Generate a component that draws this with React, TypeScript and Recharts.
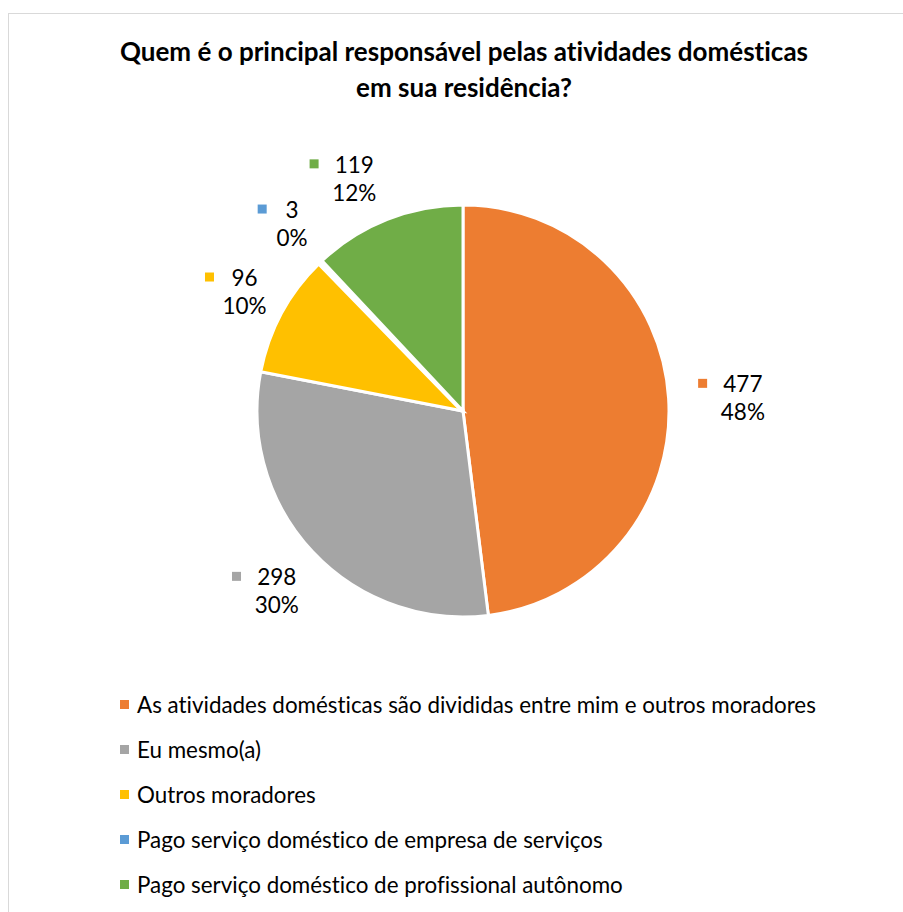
import { PieChart, Pie, Cell, Legend } from 'recharts';

const categories = [
  'As atividades domésticas são divididas entre mim e outros moradores',
  'Eu mesmo(a)',
  'Outros moradores',
  'Pago serviço doméstico de empresa de serviços',
  'Pago serviço doméstico de profissional autônomo',
];
const counts = [477, 298, 96, 3, 119];
const colors = ['#ED7D31', '#A5A5A5', '#FFC000', '#5B9BD5', '#70AD47'];
const titleLines = ['Quem é o principal responsável pelas atividades domésticas', 'em sua residência?'];

// small label shifts (Excel moves some labels to avoid overlap)
const labelNudge = [[6, 2], [-5, 0], [0, 4], [-5, 1], [-23, 10]];

const FONT = 'Lato, "Liberation Sans", sans-serif';
const RADIAN = Math.PI / 180;

const data = categories.map((name, i) => ({ name, value: counts[i] }));

const textW = (s: string) => s.replace('%', '').length * 10.5 + (s.includes('%') ? 20 : 0);

const renderLabel = (props: any) => {
  const { cx, cy, midAngle, outerRadius, index, value, percent } = props;
  const dx = Math.cos(-midAngle * RADIAN);
  const dy = Math.sin(-midAngle * RADIAN);
  const r = outerRadius + 28;
  const val = String(value);
  const pct = `${Math.round(percent * 100)}%`;
  const vw = textW(val);
  const pw = textW(pct);
  const halfW = (Math.max(pw, vw + 27)) / 2;
  const bx = cx + r * dx + dx * halfW + labelNudge[index][0];
  const by = cy + r * dy + dy * 28 + labelNudge[index][1];
  const tx = bx - (pw / 2 - vw / 2 - 27) / 2;
  return (
    <g>
      <rect x={tx - vw / 2 - 29} y={by - 18} width={9} height={9} fill={colors[index]} />
      <text x={tx} y={by - 13} textAnchor="middle" dominantBaseline="central" fontSize={22.5} fontFamily={FONT} fill="#000">
        {val}
      </text>
      <text x={tx} y={by + 15} textAnchor="middle" dominantBaseline="central" fontSize={22.5} fontFamily={FONT} fill="#000">
        {pct}
      </text>
    </g>
  );
};

const renderLegend = () => (
  <div style={{ fontFamily: FONT, fontSize: 22.4, color: '#000', fontVariantLigatures: 'none' }}>
    {categories.map((c, i) => (
      <div key={c} style={{ display: 'flex', alignItems: 'center', height: 45 }}>
        <span style={{ width: 9, height: 9, background: colors[i], marginRight: 8, display: 'inline-block' }} />
        <span>{c}</span>
      </div>
    ))}
  </div>
);

export default function App() {
  return (
    <div style={{ position: 'relative', width: 903, height: 912, overflow: 'hidden', background: '#fff' }}>
      <style>{'body{margin:0;overflow:hidden}'}</style>
      <div
        style={{
          position: 'absolute', left: 8, top: 13, width: 930, height: 930,
          border: '1px solid #D9D9D9', boxSizing: 'border-box',
        }}
      />
      <div
        style={{
          position: 'absolute', left: 8, top: 33, width: 912, textAlign: 'center',
          fontFamily: FONT, fontWeight: 700, fontSize: 26, lineHeight: '36px', color: '#000',
          fontVariantLigatures: 'none',
        }}
      >
        {titleLines.map((t) => (
          <div key={t}>{t}</div>
        ))}
      </div>
      <div style={{ position: 'absolute', left: 0, top: 0 }}>
        <PieChart width={903} height={912} margin={{ top: 0, right: 0, bottom: 0, left: 0 }}>
          <Pie
            data={data}
            dataKey="value"
            nameKey="name"
            cx={463}
            cy={411}
            outerRadius={206}
            startAngle={90}
            endAngle={-270}
            stroke="#fff"
            strokeWidth={3}
            label={renderLabel}
            labelLine={false}
            isAnimationActive={false}
          >
            {data.map((d, i) => (
              <Cell key={d.name} fill={colors[i]} strokeWidth={i === 3 ? 5 : 3} />
            ))}
          </Pie>
          <Legend
            verticalAlign="bottom"
            content={renderLegend}
            wrapperStyle={{ position: 'absolute', left: 120, top: 682, width: 770, bottom: 'auto' }}
          />
        </PieChart>
      </div>
    </div>
  );
}
